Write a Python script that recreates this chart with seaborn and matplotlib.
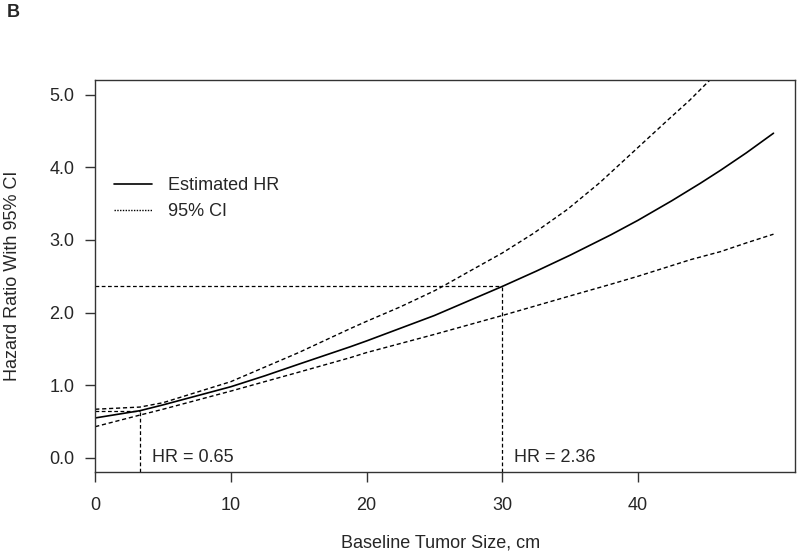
import numpy as np
import pandas as pd
import seaborn as sns
import matplotlib.pyplot as plt
from matplotlib.lines import Line2D

# --- data ---
size_cm = [0, 3.3, 5, 10, 12.5, 15, 18.8, 20, 25, 30, 32.5, 35, 38, 40, 42.5, 44.6, 46.1, 48, 50]
hr_est = [0.55, 0.65, 0.73, 0.98, 1.13, 1.29, 1.53, 1.61, 1.96, 2.36, 2.57, 2.79, 3.07, 3.27, 3.54, 3.78, 3.96, 4.20, 4.47]

ci_upper_x = [0, 3.3, 5, 10, 12.5, 15, 18.8, 20, 22.5, 25, 25.6, 27.5, 30, 32.3, 34.8, 37.2, 39.7, 42.2, 43.8, 45.3]
ci_upper = [0.67, 0.70, 0.76, 1.05, 1.25, 1.45, 1.78, 1.88, 2.08, 2.30, 2.36, 2.56, 2.82, 3.09, 3.42, 3.79, 4.22, 4.65, 4.92, 5.20]

ci_lower_x = [0, 3.3, 5, 10, 12.5, 15, 18.8, 20, 25, 30, 35, 38, 40, 43.9, 46.1, 48, 50]
ci_lower = [0.43, 0.59, 0.67, 0.92, 1.05, 1.18, 1.38, 1.45, 1.70, 1.96, 2.23, 2.39, 2.50, 2.73, 2.84, 2.96, 3.08]

ref_sizes = [3.3, 30]
ref_hr = [0.65, 2.36]
ref_labels = ['HR = 0.65', 'HR = 2.36']

x_ticks = [0, 10, 20, 30, 40]
y_ticks = [0, 1, 2, 3, 4, 5]
y_min, y_max = -0.19, 5.2
x_min, x_max = 0, 51.6

# --- style ---
sns.set_style('ticks')
plt.rcParams['font.family'] = ['Liberation Sans', 'DejaVu Sans']

fig = plt.figure(figsize=(8, 5.53), dpi=100)
ax = fig.add_axes([0.119, 0.147, 0.875, 0.708])

dash = (0, (3, 2))
sns.lineplot(x=size_cm, y=hr_est, ax=ax, color='black', linewidth=1.2)
sns.lineplot(x=ci_upper_x, y=ci_upper, ax=ax, color='black', linewidth=1.0, linestyle=dash)
sns.lineplot(x=ci_lower_x, y=ci_lower, ax=ax, color='black', linewidth=1.0, linestyle=dash)

# reference lines at the two highlighted sizes
for xs, hr, lab in zip(ref_sizes, ref_hr, ref_labels):
    ax.plot([x_min, xs], [hr, hr], color='black', linewidth=0.9, linestyle=dash)
    ax.plot([xs, xs], [y_min, hr], color='black', linewidth=0.9, linestyle=dash)
    ax.text(xs + 0.9, 0.0, lab, ha='left', va='center', fontsize=13)

ax.set_xlim(x_min, x_max)
ax.set_ylim(y_min, y_max)
ax.set_xticks(x_ticks)
ax.set_yticks(y_ticks)
ax.set_yticklabels([f'{v:.1f}' for v in y_ticks])
ax.tick_params(axis='both', labelsize=13, length=7, width=1.0, color='#333333', direction='out')
ax.tick_params(axis='y', pad=8)
ax.tick_params(axis='x', pad=11)
for sp in ax.spines.values():
    sp.set_visible(True)
    sp.set_color('#333333')
    sp.set_linewidth(1.0)

ax.set_xlabel('Baseline Tumor Size, cm', fontsize=13)
ax.set_ylabel('Hazard Ratio With 95% CI', fontsize=13)
ax.xaxis.set_label_coords(0.493, -0.183)
ax.xaxis.label.set_va('center')
ax.yaxis.set_label_coords(-0.106, 0.5)

handles = [Line2D([], [], color='black', linewidth=1.2),
           Line2D([], [], color='black', linewidth=1.0, linestyle=(0, (1, 1)))]
ax.legend(handles, ['Estimated HR', '95% CI'], loc='center left',
          bbox_to_anchor=(0.016, 0.698), frameon=False, fontsize=13,
          handlelength=2.1, handletextpad=0.9, borderaxespad=0)

fig.text(0.008, 0.978, 'B', fontsize=13, fontweight='bold', ha='left', va='center')

plt.savefig('out.png', dpi=100)
